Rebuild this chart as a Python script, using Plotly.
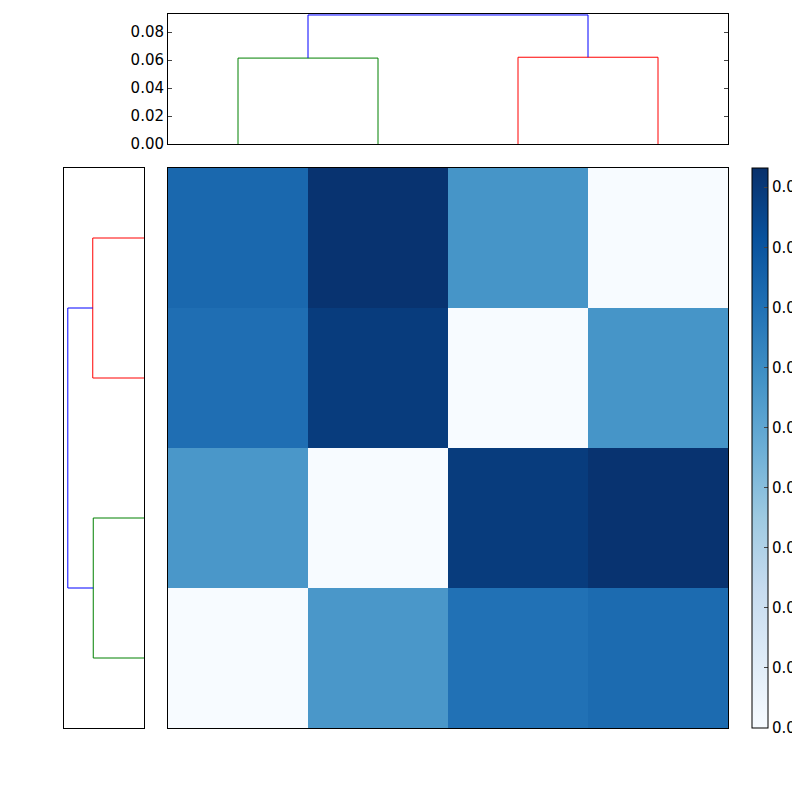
import plotly.graph_objects as go

leaf_pos = [5, 15, 25, 35]
# heatmap rows listed bottom to top
z = [
    [0.000, 0.056, 0.070, 0.072],
    [0.056, 0.000, 0.089, 0.092],
    [0.071, 0.089, 0.000, 0.057],
    [0.073, 0.092, 0.057, 0.000],
]
link_x = [[5, 5, 15, 15], [25, 25, 35, 35], [10, 10, 30, 30]]
link_h = [[0, 0.0614, 0.0614, 0], [0, 0.0620, 0.0620, 0], [0.0614, 0.0922, 0.0922, 0.0620]]
link_c = ["#008000", "#ff0000", "#0000ff"]
cb_ticks = [0.00, 0.01, 0.02, 0.03, 0.04, 0.05, 0.06, 0.07, 0.08, 0.09]
blues = ["#f7fbff", "#deebf7", "#c6dbef", "#9ecae1", "#6baed6", "#4292c6", "#2171b5", "#08519c", "#08306b"]

fig = go.Figure()
fig.add_trace(go.Heatmap(
    x=leaf_pos, y=leaf_pos, z=z, zmin=0, zmax=0.0932,
    colorscale=[[i / 8, c] for i, c in enumerate(blues)],
    xaxis="x", yaxis="y",
    colorbar=dict(x=0.93, xanchor="left", y=0.1, yanchor="bottom", len=0.7, lenmode="fraction",
                  thickness=16, outlinecolor="black", outlinewidth=1, tickvals=cb_ticks,
                  tickformat=".2f", ticks="inside", ticklen=4, xpad=0, ypad=0,
                  tickfont=dict(size=15, color="black"))))
for xs, hs, c in zip(link_x, link_h, link_c):
    fig.add_trace(go.Scatter(x=xs, y=hs, mode="lines", line=dict(color=c, width=1),
                             xaxis="x2", yaxis="y2", showlegend=False, hoverinfo="skip"))
    fig.add_trace(go.Scatter(x=hs, y=xs, mode="lines", line=dict(color=c, width=1),
                             xaxis="x3", yaxis="y3", showlegend=False, hoverinfo="skip"))

box = dict(showline=True, linecolor="black", linewidth=1, mirror=True, showgrid=False, zeroline=False)
fig.update_layout(
    width=800, height=800, margin=dict(l=0, r=0, t=0, b=0, autoexpand=False),
    paper_bgcolor="white", plot_bgcolor="white", showlegend=False,
    font=dict(family="DejaVu Sans", size=15, color="black"),
    xaxis=dict(domain=[0.2, 0.9], range=[0, 40], showticklabels=False, ticks="", anchor="y", **box),
    yaxis=dict(domain=[0.1, 0.8], range=[0, 40], showticklabels=False, ticks="", anchor="x", **box),
    xaxis2=dict(domain=[0.2, 0.9], range=[0, 40], showticklabels=False, ticks="", anchor="y2", **box),
    yaxis2=dict(domain=[0.83, 0.9925], range=[0, 0.0929], tickvals=[0, 0.02, 0.04, 0.06, 0.08],
                tickformat=".2f", ticks="inside", ticklen=4, anchor="x2",
                **{**box, "mirror": "ticks"}),
    xaxis3=dict(domain=[0.07, 0.17], range=[0.0968, 0], showticklabels=False, ticks="", anchor="y3", **box),
    yaxis3=dict(domain=[0.1, 0.8], range=[0, 40], showticklabels=False, ticks="", anchor="x3", **box),
)
fig.write_html("out.html")
